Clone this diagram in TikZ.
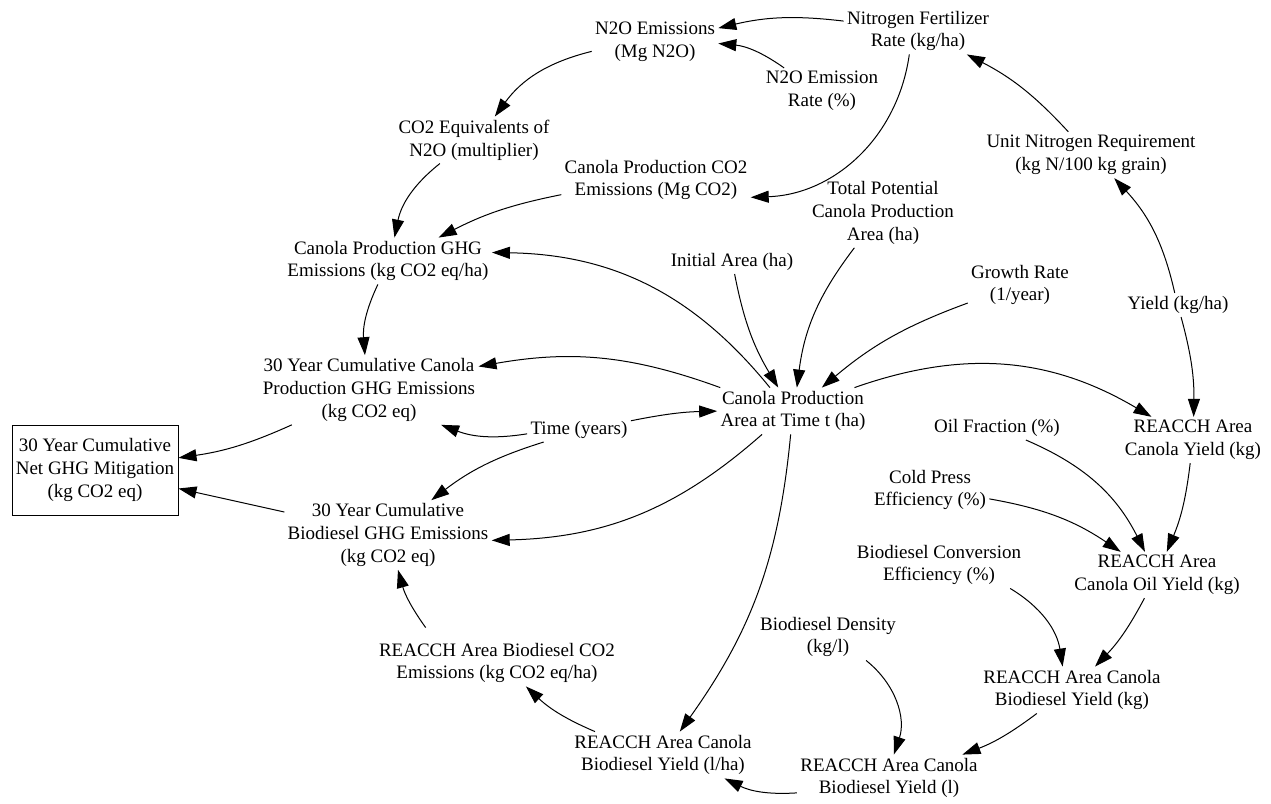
\documentclass[tikz,border=0pt]{standalone}
\usepackage{fontspec}
\setmainfont{Liberation Serif}
\usepackage{tikz}
\usetikzlibrary{arrows.meta}
\tikzset{>={Triangle[length=9pt,width=6pt]}}
\tikzset{
    var/.style={align=center, inner sep=1.5pt, font=\fontsize{9.5}{11.4}\selectfont},
    stock/.style={var, draw, line width=0.5pt, minimum width=83pt, minimum height=45pt},
    link/.style={->, line width=0.5pt}
}

\begin{document}
\begin{tikzpicture}[x=0.5pt, y=0.5pt]

    \useasboundingbox (0,0) rectangle (1271,-804);

    % Variables
    \node[var] (n2o) at (655,-42) {N2O Emissions\\(Mg N2O)};
    \node[var] (nfert) at (918,-31) {Nitrogen Fertilizer\\Rate (kg/ha)};
    \node[var] (n2orate) at (822,-91) {N2O Emission\\Rate (\%)};
    \node[var] (co2eq) at (474,-140) {CO2 Equivalents of\\N2O (multiplier)};
    \node[var] (canco2) at (656,-180) {Canola Production CO2\\Emissions (Mg CO2)};
    \node[var] (totpot) at (883,-213) {Total Potential\\Canola Production\\Area (ha)};
    \node[var] (unitn) at (1091,-155) {Unit Nitrogen Requirement\\(kg N/100 kg grain)};
    \node[var] (canghg) at (388,-261) {Canola Production GHG\\Emissions (kg CO2 eq/ha)};
    \node[var] (initarea) at (732,-262) {Initial Area (ha)};
    \node[var] (growth) at (1020,-285) {Growth Rate\\(1/year)};
    \node[var] (yield) at (1178,-305) {Yield (kg/ha)};
    \node[var] (cumcan) at (369,-390) {30 Year Cumulative Canola\\Production GHG Emissions\\(kg CO2 eq)};
    \node[var] (area) at (793,-411) {Canola Production\\Area at Time t (ha)};
    \node[var] (time) at (579,-430) {Time (years)};
    \node[stock] (netghg) at (95,-470) {30 Year Cumulative\\Net GHG Mitigation\\(kg CO2 eq)};
    \node[var] (reayield) at (1193,-440) {REACCH Area\\Canola Yield (kg)};
    \node[var] (oilfrac) at (997,-428) {Oil Fraction (\%)};
    \node[var] (coldpress) at (930,-490) {Cold Press\\Efficiency (\%)};
    \node[var] (conv) at (939,-565) {Biodiesel Conversion\\Efficiency (\%)};
    \node[var] (oilyield) at (1157,-575) {REACCH Area\\Canola Oil Yield (kg)};
    \node[var] (cumbio) at (388,-535) {30 Year Cumulative\\Biodiesel GHG Emissions\\(kg CO2 eq)};
    \node[var] (reaco2) at (497,-663) {REACCH Area Biodiesel CO2\\Emissions (kg CO2 eq/ha)};
    \node[var] (biokg) at (1072,-690) {REACCH Area Canola\\Biodiesel Yield (kg)};
    \node[var] (density) at (828,-637) {Biodiesel Density\\(kg/l)};
    \node[var] (yieldl) at (889,-778) {REACCH Area Canola\\Biodiesel Yield (l)};
    \node[var] (yieldlha) at (663,-755) {REACCH Area Canola\\Biodiesel Yield (l/ha)};

    % Nitrogen part
    \draw[link] (nfert) to[bend right=10] (n2o);
    \draw[link] (n2orate) to[bend right=15] (n2o);
    \draw[link] (nfert) to[bend left=40] (canco2);
    \draw[link] (unitn) to[bend right=10] (nfert);
    \draw[link] (n2o) to[bend right=20] (co2eq);
    \draw[link] (co2eq) to[bend right=20] (canghg);
    \draw[link] (canco2) to[bend right=8] (canghg);
    \draw[link] (yield) to[bend right=15] (unitn);
    \draw[link] (yield) to[bend left=8] (reayield);

    % Area
    \draw[link] (initarea) to[bend right=10] (area);
    \draw[link] (totpot) to[bend right=15] (area);
    \draw[link] (growth) to[bend right=10] (area);
    \draw[link] (time) to[bend left=5] (area);
    \draw[link] (area) to[bend right=25] (canghg);
    \draw[link] (area) to[bend left=25] (reayield);
    \draw[link] (area) to[bend right=15] (cumcan);
    \draw[link] (area) to[bend left=20] (cumbio);
    \draw[link] (area) to[bend left=15] (yieldlha);

    % Cumulative emissions
    \draw[link] (canghg) to[bend right=15] (cumcan);
    \draw[link] (time) to[bend left=15] (cumcan);
    \draw[link] (time) to[bend right=10] (cumbio);
    \draw[link] (cumcan) to[bend left=8] (netghg);
    \draw[link] (cumbio) to (netghg);
    \draw[link] ([xshift=25pt,yshift=6pt]reaco2.north west) to[bend left=10] ([xshift=5pt]cumbio.south);

    % Biodiesel chain
    \draw[link] (oilfrac) to[bend left=20] (oilyield);
    \draw[link] (coldpress) to[bend left=12] (oilyield);
    \draw[link] (reayield) to[bend left=8] (oilyield);
    \draw[link] (conv) to[bend left=25] (biokg);
    \draw[link] (oilyield) to[bend left=8] (biokg);
    \draw[link] (biokg) to[bend left=8] (yieldl);
    \draw[link] (density) to[bend left=35] (yieldl);
    \draw[link] (yieldl) to[bend left=15] (yieldlha);
    \draw[link] (yieldlha) to[bend left=10] (reaco2);

\end{tikzpicture}
\end{document}
